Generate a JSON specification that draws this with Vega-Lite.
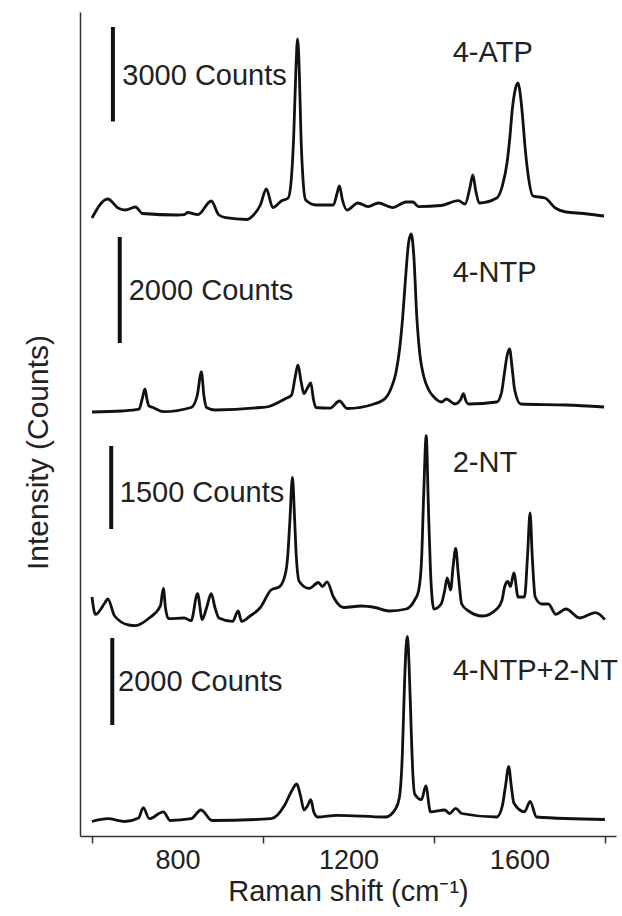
{
  "$schema": "https://vega.github.io/schema/vega-lite/v6.json",
  "width": 536,
  "height": 824,
  "autosize": {"type": "none"},
  "padding": {"left": 80, "top": 12, "right": 6, "bottom": 80},
  "background": "white",
  "config": {
    "view": {"stroke": null},
    "font": "Liberation Sans",
    "axis": {"grid": false, "labelFont": "Liberation Sans", "titleFont": "Liberation Sans", "titleFontWeight": "normal", "labelColor": "#222", "titleColor": "#222", "domainColor": "#333", "tickColor": "#333"}
  },
  "datasets": {
    "spectra": [
      {"wn": 600, "y": 618, "s": "4-ATP"}, {"wn": 637, "y": 637, "s": "4-ATP"}, {"wn": 661, "y": 628, "s": "4-ATP"}, {"wn": 678, "y": 626, "s": "4-ATP"}, {"wn": 702, "y": 629, "s": "4-ATP"}, {"wn": 718, "y": 622.5, "s": "4-ATP"}, {"wn": 800, "y": 621, "s": "4-ATP"}, {"wn": 816, "y": 621.4, "s": "4-ATP"}, {"wn": 824, "y": 623.5, "s": "4-ATP"}, {"wn": 848, "y": 621.4, "s": "4-ATP"}, {"wn": 879, "y": 635, "s": "4-ATP"}, {"wn": 897, "y": 621, "s": "4-ATP"}, {"wn": 913, "y": 618.3, "s": "4-ATP"}, {"wn": 962, "y": 616.5, "s": "4-ATP"}, {"wn": 978, "y": 621, "s": "4-ATP"}, {"wn": 994, "y": 631, "s": "4-ATP"}, {"wn": 1008, "y": 647, "s": "4-ATP"}, {"wn": 1023, "y": 628.4, "s": "4-ATP"}, {"wn": 1043, "y": 635, "s": "4-ATP"}, {"wn": 1059, "y": 638, "s": "4-ATP"}, {"wn": 1066, "y": 655, "s": "4-ATP"}, {"wn": 1072, "y": 700, "s": "4-ATP"}, {"wn": 1077, "y": 765, "s": "4-ATP"}, {"wn": 1081, "y": 797, "s": "4-ATP"}, {"wn": 1085, "y": 765, "s": "4-ATP"}, {"wn": 1089, "y": 700, "s": "4-ATP"}, {"wn": 1094, "y": 655, "s": "4-ATP"}, {"wn": 1100, "y": 636, "s": "4-ATP"}, {"wn": 1124, "y": 631, "s": "4-ATP"}, {"wn": 1165, "y": 631, "s": "4-ATP"}, {"wn": 1173, "y": 642, "s": "4-ATP"}, {"wn": 1179, "y": 650, "s": "4-ATP"}, {"wn": 1186, "y": 636, "s": "4-ATP"}, {"wn": 1197, "y": 626, "s": "4-ATP"}, {"wn": 1222, "y": 633, "s": "4-ATP"}, {"wn": 1246, "y": 629.4, "s": "4-ATP"}, {"wn": 1270, "y": 633, "s": "4-ATP"}, {"wn": 1303, "y": 628.4, "s": "4-ATP"}, {"wn": 1335, "y": 634, "s": "4-ATP"}, {"wn": 1351, "y": 634, "s": "4-ATP"}, {"wn": 1364, "y": 629.4, "s": "4-ATP"}, {"wn": 1417, "y": 630.5, "s": "4-ATP"}, {"wn": 1457, "y": 635.3, "s": "4-ATP"}, {"wn": 1473, "y": 632, "s": "4-ATP"}, {"wn": 1484, "y": 648, "s": "4-ATP"}, {"wn": 1491, "y": 661, "s": "4-ATP"}, {"wn": 1498, "y": 645, "s": "4-ATP"}, {"wn": 1506, "y": 633, "s": "4-ATP"}, {"wn": 1547, "y": 638, "s": "4-ATP"}, {"wn": 1560, "y": 650, "s": "4-ATP"}, {"wn": 1571, "y": 673, "s": "4-ATP"}, {"wn": 1578, "y": 700, "s": "4-ATP"}, {"wn": 1583, "y": 725, "s": "4-ATP"}, {"wn": 1590, "y": 746, "s": "4-ATP"}, {"wn": 1597, "y": 753, "s": "4-ATP"}, {"wn": 1602, "y": 742, "s": "4-ATP"}, {"wn": 1607, "y": 721.4, "s": "4-ATP"}, {"wn": 1613, "y": 690, "s": "4-ATP"}, {"wn": 1620, "y": 662.4, "s": "4-ATP"}, {"wn": 1632, "y": 640, "s": "4-ATP"}, {"wn": 1660, "y": 638, "s": "4-ATP"}, {"wn": 1684, "y": 628, "s": "4-ATP"}, {"wn": 1709, "y": 624, "s": "4-ATP"}, {"wn": 1750, "y": 622.5, "s": "4-ATP"}, {"wn": 1798, "y": 620, "s": "4-ATP"},

      {"wn": 600, "y": 424, "s": "4-NTP"}, {"wn": 669, "y": 425, "s": "4-NTP"}, {"wn": 710, "y": 426.8, "s": "4-NTP"}, {"wn": 718, "y": 438, "s": "4-NTP"}, {"wn": 724, "y": 447, "s": "4-NTP"}, {"wn": 729, "y": 436, "s": "4-NTP"}, {"wn": 733, "y": 430.2, "s": "4-NTP"}, {"wn": 743, "y": 428.5, "s": "4-NTP"}, {"wn": 767, "y": 424.3, "s": "4-NTP"}, {"wn": 832, "y": 428.5, "s": "4-NTP"}, {"wn": 846, "y": 440, "s": "4-NTP"}, {"wn": 856, "y": 464, "s": "4-NTP"}, {"wn": 862, "y": 440, "s": "4-NTP"}, {"wn": 868, "y": 428.5, "s": "4-NTP"}, {"wn": 888, "y": 426, "s": "4-NTP"}, {"wn": 994, "y": 428.5, "s": "4-NTP"}, {"wn": 1014, "y": 429.5, "s": "4-NTP"}, {"wn": 1051, "y": 437, "s": "4-NTP"}, {"wn": 1067, "y": 441, "s": "4-NTP"}, {"wn": 1075, "y": 458, "s": "4-NTP"}, {"wn": 1082, "y": 471, "s": "4-NTP"}, {"wn": 1089, "y": 455, "s": "4-NTP"}, {"wn": 1096, "y": 442.4, "s": "4-NTP"}, {"wn": 1104, "y": 448, "s": "4-NTP"}, {"wn": 1112, "y": 453, "s": "4-NTP"}, {"wn": 1118, "y": 437, "s": "4-NTP"}, {"wn": 1124, "y": 428.5, "s": "4-NTP"}, {"wn": 1157, "y": 427.8, "s": "4-NTP"}, {"wn": 1179, "y": 435, "s": "4-NTP"}, {"wn": 1197, "y": 427.5, "s": "4-NTP"}, {"wn": 1260, "y": 432, "s": "4-NTP"}, {"wn": 1287, "y": 438, "s": "4-NTP"}, {"wn": 1300, "y": 448, "s": "4-NTP"}, {"wn": 1311, "y": 463, "s": "4-NTP"}, {"wn": 1320, "y": 488, "s": "4-NTP"}, {"wn": 1327, "y": 519, "s": "4-NTP"}, {"wn": 1334, "y": 560, "s": "4-NTP"}, {"wn": 1341, "y": 594, "s": "4-NTP"}, {"wn": 1347, "y": 602, "s": "4-NTP"}, {"wn": 1353, "y": 580, "s": "4-NTP"}, {"wn": 1360, "y": 519, "s": "4-NTP"}, {"wn": 1367, "y": 482, "s": "4-NTP"}, {"wn": 1376, "y": 460, "s": "4-NTP"}, {"wn": 1388, "y": 446, "s": "4-NTP"}, {"wn": 1400, "y": 439, "s": "4-NTP"}, {"wn": 1418, "y": 434, "s": "4-NTP"}, {"wn": 1429, "y": 437, "s": "4-NTP"}, {"wn": 1449, "y": 432, "s": "4-NTP"}, {"wn": 1462, "y": 436, "s": "4-NTP"}, {"wn": 1469, "y": 442.4, "s": "4-NTP"}, {"wn": 1475, "y": 435, "s": "4-NTP"}, {"wn": 1481, "y": 432, "s": "4-NTP"}, {"wn": 1547, "y": 434, "s": "4-NTP"}, {"wn": 1558, "y": 443, "s": "4-NTP"}, {"wn": 1565, "y": 463, "s": "4-NTP"}, {"wn": 1571, "y": 480, "s": "4-NTP"}, {"wn": 1577, "y": 487, "s": "4-NTP"}, {"wn": 1583, "y": 468, "s": "4-NTP"}, {"wn": 1589, "y": 446, "s": "4-NTP"}, {"wn": 1603, "y": 432, "s": "4-NTP"}, {"wn": 1709, "y": 431, "s": "4-NTP"}, {"wn": 1798, "y": 429, "s": "4-NTP"},

      {"wn": 600, "y": 239, "s": "2-NT"}, {"wn": 608, "y": 221.6, "s": "2-NT"}, {"wn": 630, "y": 233, "s": "2-NT"}, {"wn": 637, "y": 237.2, "s": "2-NT"}, {"wn": 653, "y": 220, "s": "2-NT"}, {"wn": 686, "y": 211, "s": "2-NT"}, {"wn": 702, "y": 210.4, "s": "2-NT"}, {"wn": 734, "y": 218, "s": "2-NT"}, {"wn": 760, "y": 230, "s": "2-NT"}, {"wn": 767, "y": 247.6, "s": "2-NT"}, {"wn": 772, "y": 228, "s": "2-NT"}, {"wn": 779, "y": 217.4, "s": "2-NT"}, {"wn": 816, "y": 218, "s": "2-NT"}, {"wn": 832, "y": 215.3, "s": "2-NT"}, {"wn": 847, "y": 242.4, "s": "2-NT"}, {"wn": 858, "y": 216.4, "s": "2-NT"}, {"wn": 868, "y": 228, "s": "2-NT"}, {"wn": 879, "y": 242.4, "s": "2-NT"}, {"wn": 888, "y": 228, "s": "2-NT"}, {"wn": 897, "y": 218, "s": "2-NT"}, {"wn": 929, "y": 214.6, "s": "2-NT"}, {"wn": 942, "y": 225, "s": "2-NT"}, {"wn": 950, "y": 214.6, "s": "2-NT"}, {"wn": 970, "y": 220, "s": "2-NT"}, {"wn": 994, "y": 228.5, "s": "2-NT"}, {"wn": 1019, "y": 246, "s": "2-NT"}, {"wn": 1039, "y": 249.3, "s": "2-NT"}, {"wn": 1053, "y": 263.2, "s": "2-NT"}, {"wn": 1058, "y": 280, "s": "2-NT"}, {"wn": 1063, "y": 315, "s": "2-NT"}, {"wn": 1069, "y": 358.7, "s": "2-NT"}, {"wn": 1074, "y": 318, "s": "2-NT"}, {"wn": 1078, "y": 280, "s": "2-NT"}, {"wn": 1085, "y": 254.5, "s": "2-NT"}, {"wn": 1108, "y": 247.6, "s": "2-NT"}, {"wn": 1130, "y": 253.5, "s": "2-NT"}, {"wn": 1139, "y": 249.3, "s": "2-NT"}, {"wn": 1150, "y": 254.2, "s": "2-NT"}, {"wn": 1165, "y": 239, "s": "2-NT"}, {"wn": 1189, "y": 228.5, "s": "2-NT"}, {"wn": 1230, "y": 230, "s": "2-NT"}, {"wn": 1262, "y": 228.5, "s": "2-NT"}, {"wn": 1295, "y": 225, "s": "2-NT"}, {"wn": 1335, "y": 227, "s": "2-NT"}, {"wn": 1355, "y": 236, "s": "2-NT"}, {"wn": 1364, "y": 245, "s": "2-NT"}, {"wn": 1371, "y": 275, "s": "2-NT"}, {"wn": 1376, "y": 340, "s": "2-NT"}, {"wn": 1382, "y": 400.4, "s": "2-NT"}, {"wn": 1387, "y": 330, "s": "2-NT"}, {"wn": 1392, "y": 265, "s": "2-NT"}, {"wn": 1400, "y": 227, "s": "2-NT"}, {"wn": 1417, "y": 232, "s": "2-NT"}, {"wn": 1425, "y": 245, "s": "2-NT"}, {"wn": 1431, "y": 258, "s": "2-NT"}, {"wn": 1439, "y": 246, "s": "2-NT"}, {"wn": 1445, "y": 270, "s": "2-NT"}, {"wn": 1451, "y": 287.5, "s": "2-NT"}, {"wn": 1457, "y": 262, "s": "2-NT"}, {"wn": 1465, "y": 232, "s": "2-NT"}, {"wn": 1481, "y": 225, "s": "2-NT"}, {"wn": 1514, "y": 220, "s": "2-NT"}, {"wn": 1547, "y": 227, "s": "2-NT"}, {"wn": 1559, "y": 235.4, "s": "2-NT"}, {"wn": 1566, "y": 250, "s": "2-NT"}, {"wn": 1573, "y": 254.5, "s": "2-NT"}, {"wn": 1579, "y": 249.3, "s": "2-NT"}, {"wn": 1587, "y": 263.2, "s": "2-NT"}, {"wn": 1597, "y": 239, "s": "2-NT"}, {"wn": 1612, "y": 239, "s": "2-NT"}, {"wn": 1619, "y": 280, "s": "2-NT"}, {"wn": 1625, "y": 323, "s": "2-NT"}, {"wn": 1630, "y": 280, "s": "2-NT"}, {"wn": 1637, "y": 239, "s": "2-NT"}, {"wn": 1652, "y": 232, "s": "2-NT"}, {"wn": 1668, "y": 232, "s": "2-NT"}, {"wn": 1685, "y": 221.6, "s": "2-NT"}, {"wn": 1709, "y": 227, "s": "2-NT"}, {"wn": 1741, "y": 218, "s": "2-NT"}, {"wn": 1778, "y": 223.3, "s": "2-NT"}, {"wn": 1800, "y": 216.4, "s": "2-NT"},

      {"wn": 600, "y": 14.5, "s": "mix"}, {"wn": 637, "y": 17.3, "s": "mix"}, {"wn": 677, "y": 14.5, "s": "mix"}, {"wn": 709, "y": 18, "s": "mix"}, {"wn": 720, "y": 28.4, "s": "mix"}, {"wn": 734, "y": 17.3, "s": "mix"}, {"wn": 767, "y": 24.2, "s": "mix"}, {"wn": 783, "y": 15.5, "s": "mix"}, {"wn": 832, "y": 17.3, "s": "mix"}, {"wn": 855, "y": 26, "s": "mix"}, {"wn": 881, "y": 15.5, "s": "mix"}, {"wn": 1019, "y": 17.3, "s": "mix"}, {"wn": 1051, "y": 31, "s": "mix"}, {"wn": 1066, "y": 44, "s": "mix"}, {"wn": 1079, "y": 52, "s": "mix"}, {"wn": 1088, "y": 40, "s": "mix"}, {"wn": 1096, "y": 26, "s": "mix"}, {"wn": 1104, "y": 30, "s": "mix"}, {"wn": 1112, "y": 36.3, "s": "mix"}, {"wn": 1119, "y": 24, "s": "mix"}, {"wn": 1128, "y": 19, "s": "mix"}, {"wn": 1173, "y": 20.7, "s": "mix"}, {"wn": 1287, "y": 19, "s": "mix"}, {"wn": 1310, "y": 27, "s": "mix"}, {"wn": 1319, "y": 38, "s": "mix"}, {"wn": 1326, "y": 80, "s": "mix"}, {"wn": 1331, "y": 149.2, "s": "mix"}, {"wn": 1335, "y": 190, "s": "mix"}, {"wn": 1338, "y": 199.5, "s": "mix"}, {"wn": 1342, "y": 170, "s": "mix"}, {"wn": 1347, "y": 104, "s": "mix"}, {"wn": 1351, "y": 60, "s": "mix"}, {"wn": 1355, "y": 42, "s": "mix"}, {"wn": 1371, "y": 36.3, "s": "mix"}, {"wn": 1381, "y": 50.2, "s": "mix"}, {"wn": 1392, "y": 24.2, "s": "mix"}, {"wn": 1425, "y": 26, "s": "mix"}, {"wn": 1437, "y": 22.5, "s": "mix"}, {"wn": 1451, "y": 27.7, "s": "mix"}, {"wn": 1465, "y": 22.5, "s": "mix"}, {"wn": 1547, "y": 19, "s": "mix"}, {"wn": 1560, "y": 30, "s": "mix"}, {"wn": 1567, "y": 48.5, "s": "mix"}, {"wn": 1575, "y": 69.3, "s": "mix"}, {"wn": 1581, "y": 50, "s": "mix"}, {"wn": 1587, "y": 33, "s": "mix"}, {"wn": 1612, "y": 24.2, "s": "mix"}, {"wn": 1625, "y": 34.6, "s": "mix"}, {"wn": 1640, "y": 19, "s": "mix"}, {"wn": 1800, "y": 16.5, "s": "mix"}
    ],
    "bars": [
      {"wn": 649, "y1": 714.5, "y2": 809},
      {"wn": 665, "y1": 493, "y2": 599},
      {"wn": 645, "y1": 307, "y2": 390},
      {"wn": 647.5, "y1": 111, "y2": 198}
    ],
    "counts": [
      {"wn": 671, "y": 759.6, "t": "3000 Counts"},
      {"wn": 686, "y": 545, "t": "2000 Counts"},
      {"wn": 665, "y": 343, "t": "1500 Counts"},
      {"wn": 661, "y": 154.4, "t": "2000 Counts"}
    ],
    "names": [
      {"wn": 1444, "y": 783, "t": "4-ATP"},
      {"wn": 1444, "y": 563, "t": "4-NTP"},
      {"wn": 1444, "y": 373, "t": "2-NT"},
      {"wn": 1444, "y": 165, "t": "4-NTP+2-NT"}
    ]
  },
  "layer": [
    {
      "data": {"name": "spectra"},
      "mark": {"type": "line", "color": "#111", "strokeWidth": 2.8, "strokeJoin": "round", "interpolate": "monotone"},
      "encoding": {
        "x": {"field": "wn", "type": "quantitative", "scale": {"domain": [572, 1826], "nice": false, "zero": false},
          "axis": {"title": "Raman shift (cm⁻¹)", "titleFontSize": 29, "labelFontSize": 27, "format": "d",
            "values": [600, 800, 1000, 1200, 1400, 1600, 1800],
            "labelExpr": "(datum.value == 800 || datum.value == 1200 || datum.value == 1600) ? datum.label : ''",
            "tickColor": {"condition": {"test": "datum.value == 800 || datum.value == 1200 || datum.value == 1600", "value": "transparent"}, "value": "#333"},
            "tickSize": 7, "tickWidth": 1.5, "domainWidth": 1.5, "labelPadding": 4, "titlePadding": 4, "labelFlush": false}},
        "y": {"field": "y", "type": "quantitative", "scale": {"domain": [0, 824], "nice": false},
          "axis": {"title": "Intensity (Counts)", "titleFontSize": 30, "labels": false, "ticks": false, "domainWidth": 1.5,
            "titleAngle": -90, "titleAlign": "center", "titleBaseline": "bottom", "titleX": -27, "titleY": 440}},
        "detail": {"field": "s", "type": "nominal"}
      }
    },
    {
      "data": {"name": "bars"},
      "mark": {"type": "rule", "color": "#111", "strokeWidth": 4},
      "encoding": {
        "x": {"field": "wn", "type": "quantitative"},
        "y": {"field": "y1", "type": "quantitative"},
        "y2": {"field": "y2"}
      }
    },
    {
      "data": {"name": "counts"},
      "mark": {"type": "text", "align": "left", "baseline": "middle", "fontSize": 29, "color": "#222", "font": "Liberation Sans"},
      "encoding": {
        "x": {"field": "wn", "type": "quantitative"},
        "y": {"field": "y", "type": "quantitative"},
        "text": {"field": "t"}
      }
    },
    {
      "data": {"name": "names"},
      "mark": {"type": "text", "align": "left", "baseline": "middle", "fontSize": 29, "color": "#222", "font": "Liberation Sans"},
      "encoding": {
        "x": {"field": "wn", "type": "quantitative"},
        "y": {"field": "y", "type": "quantitative"},
        "text": {"field": "t"}
      }
    }
  ]
}
